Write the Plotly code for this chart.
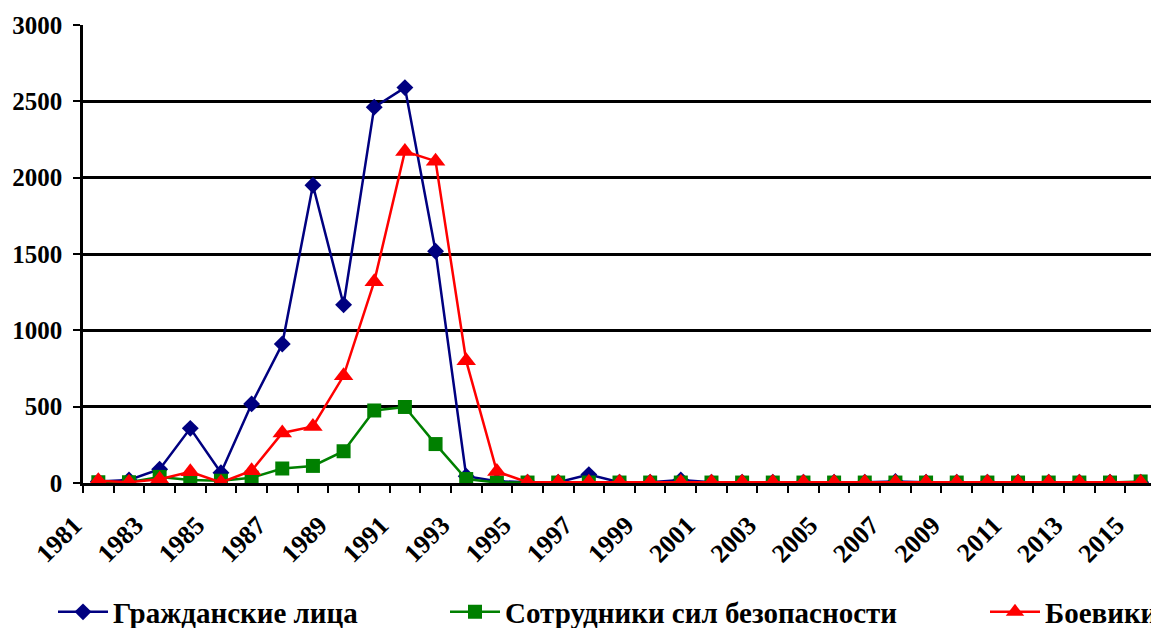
import plotly.graph_objects as go

years = [1981, 1982, 1983, 1984, 1985, 1986, 1987, 1988, 1989, 1990,
         1991, 1992, 1993, 1994, 1995, 1996, 1997, 1998, 1999, 2000,
         2001, 2002, 2003, 2004, 2005, 2006, 2007, 2008, 2009, 2010,
         2011, 2012, 2013, 2014, 2015]
civilians = [10, 20, 90, 358, 67, 518, 910, 1950, 1168, 2462,
             2590, 1518, 45, 12, 5, 5, 55, 5, 5, 20,
             5, 5, 5, 5, 5, 5, 10, 5, 5, 5,
             5, 5, 5, 5, 5]
security = [5, 5, 40, 20, 15, 35, 95, 112, 208, 475,
            498, 255, 26, 3, 3, 3, 3, 3, 3, 3,
            3, 3, 3, 3, 3, 3, 3, 3, 3, 3,
            3, 3, 3, 3, 10]
militants = [15, 5, 25, 74, 3, 80, 328, 370, 702, 1319,
             2172, 2108, 800, 75, 5, 5, 5, 5, 5, 5,
             5, 5, 5, 5, 5, 5, 5, 5, 5, 5,
             5, 5, 5, 5, 5]
names = ["Гражданские лица", "Сотрудники сил безопасности", "Боевики"]
y_ticks = [0, 500, 1000, 1500, 2000, 2500, 3000]
x_labels = years[::2]

FONT = "Liberation Serif"
W, H = 1151, 620  # page body has an 8px margin

fig = go.Figure()
fig.add_trace(go.Scatter(
    x=years, y=civilians, name=names[0], mode="lines+markers",
    line=dict(color="#000080", width=2.5),
    marker=dict(symbol="diamond", size=13, color="#000080"),
    legend="legend"))
fig.add_trace(go.Scatter(
    x=years, y=security, name=names[1], mode="lines+markers",
    line=dict(color="#008000", width=2.5),
    marker=dict(symbol="square", size=14, color="#008000"),
    legend="legend2"))
fig.add_trace(go.Scatter(
    x=years, y=militants, name=names[2], mode="lines+markers",
    line=dict(color="#FF0000", width=2.5),
    marker=dict(symbol="triangle-up", size=17, color="#FF0000"),
    legend="legend3"))

legend_common = dict(
    orientation="h", yanchor="middle", xanchor="left",
    xref="container", yref="container", y=(620 - 604) / H,
    font=dict(family=FONT, size=29, color="black", weight="bold"),
    bgcolor="rgba(0,0,0,0)", itemwidth=50, visible=True)

fig.update_layout(
    width=W, height=H, showlegend=True,
    margin=dict(l=75, r=3, t=17, b=145, autoexpand=False),
    paper_bgcolor="white", plot_bgcolor="white",
    font=dict(family=FONT, color="black", weight="bold"),
    legend=dict(x=45 / W, **legend_common),
    legend2=dict(x=437 / W, **legend_common),
    legend3=dict(x=977 / W, **legend_common),
    xaxis=dict(
        range=[years[0] - 0.5, years[-1] + 0.5],
        tickvals=x_labels, ticktext=[str(v) for v in x_labels],
        tickangle=-45, ticks="outside", ticklen=0,
        ticklabelstandoff=14, ticklabelshift=-24,
        tickfont=dict(family=FONT, size=26, color="black", weight="bold"),
        showline=True, linecolor="black", linewidth=2.5, mirror=False,
        showgrid=False, zeroline=False, automargin=False,
        minor=dict(tick0=years[0] - 0.5, dtick=1, ticks="outside",
                   ticklen=7, tickcolor="black", tickwidth=2),
    ),
    yaxis=dict(
        range=[0, 3000], tickvals=y_ticks,
        ticks="outside", ticklen=7, tickcolor="black", tickwidth=2,
        ticklabelstandoff=6,
        tickfont=dict(family=FONT, size=25, color="black", weight="bold"),
        showline=True, linecolor="black", linewidth=2.5, mirror=True,
        showgrid=True, gridcolor="black", gridwidth=2.5,
        zeroline=False, automargin=False,
    ),
)

fig.write_html("out.html")
